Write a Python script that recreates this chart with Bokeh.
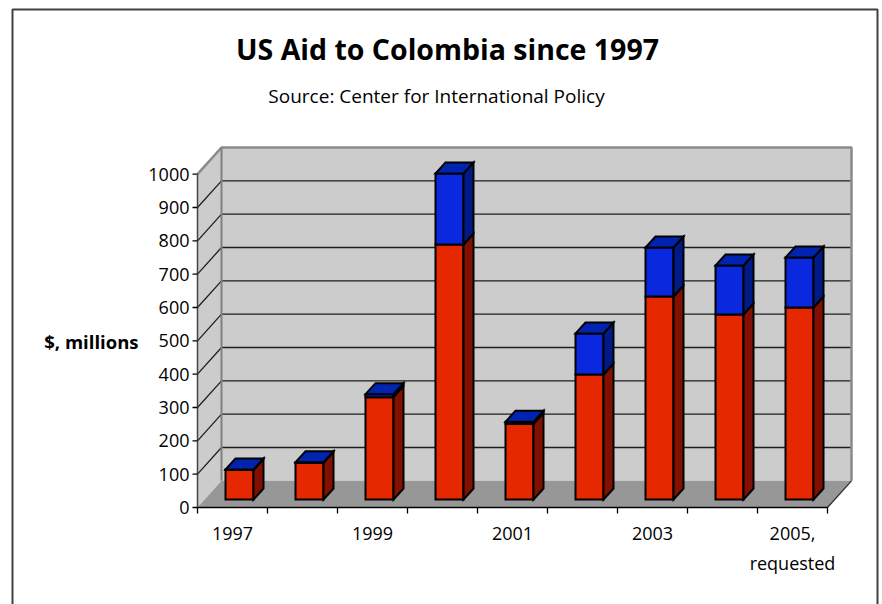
from bokeh.plotting import figure
from bokeh.models import Range1d
from bokeh.core.properties import value
from bokeh.embed import file_html
from bokeh.resources import INLINE

# ---------------- data ----------------
years = ["1997", "1998", "1999", "2000", "2001", "2002", "2003", "2004", "2005, requested"]
military = [88.5, 110, 307, 765, 227, 375, 609, 555, 576]     # red series
economic = [1.5, 1.5, 9, 213, 6, 123, 147, 147, 150]         # blue series
shown_labels = ["1997", "", "1999", "", "2001", "", "2003", "", "2005,\nrequested"]
y_ticks = [0, 100, 200, 300, 400, 500, 600, 700, 800, 900, 1000]

title_text = "US Aid to Colombia since 1997"
subtitle_text = "Source: Center for International Policy"
ylabel_text = "$, millions"

# ---------------- geometry (styling) ----------------
W, H = 882, 604
X0PX, Y0PX = 197, 507           # screen position of front-left floor corner
PX_PER_CAT = 70.0
UNITS_PER_PX = 3.0

def sx(px):
    return (px - X0PX) / PX_PER_CAT

def sy(py):
    return (Y0PX - py) * UNITS_PER_PX

xr = Range1d(sx(0), sx(W))
yr = Range1d(sy(H), sy(0))

DX = 24 / PX_PER_CAT     # wall depth offset (category units)
DY = 80                  # wall depth offset (value units)
BAR_X0 = 0.4             # bar front face left inside category
BAR_W = 0.4
BASE = 24                # bar base lifted into the floor depth
BDX = 10 / PX_PER_CAT    # bar depth
BDY = 33
TICK = 5                 # px

n = len(years)
FONT = value("Open Sans")

p = figure(width=W, height=H, x_range=xr, y_range=yr, output_backend="svg",
           toolbar_location=None, min_border=0, x_axis_location=None, y_axis_location=None,
           title_location=None)
p.outline_line_color = None
p.grid.visible = False
p.background_fill_color = "white"
p.border_fill_color = "white"

# ---------------- walls and floor ----------------
top_v = y_ticks[-1]
p.patch([0, DX, DX, 0], [0, DY, top_v + DY, top_v], fill_color="#cccccc", line_color=None)
p.patch([DX, n + DX, n + DX, DX], [DY, DY, top_v + DY, top_v + DY], fill_color="#cccccc", line_color=None)
p.patch([0, n, n + DX, DX], [0, 0, DY, DY], fill_color="#979797", line_color=None)

grid_v = y_ticks[1:-1]
p.multi_line([[DX, n + DX] for v in grid_v], [[v + DY, v + DY] for v in grid_v],
             line_color="#1e1e1e", line_width=1.3)
p.multi_line([[0, DX] for v in grid_v], [[v, v + DY] for v in grid_v],
             line_color="#1e1e1e", line_width=1.3)
p.line([0, DX, n + DX, n + DX], [top_v, top_v + DY, top_v + DY, DY], line_color="#8a8a8a", line_width=2.5)
p.line([DX, DX], [DY, top_v + DY], line_color="#808080", line_width=2)
p.line([n, n + DX], [0, DY], line_color="#303030", line_width=1.3)

# ---------------- bars ----------------
def boxes(bottoms, tops):
    fx, fy, s_x, s_y, tx, ty = [], [], [], [], [], []
    for i in range(n):
        x0 = i + BAR_X0
        x1 = x0 + BAR_W
        b = BASE + bottoms[i]
        t = BASE + tops[i]
        fx.append([x0, x1, x1, x0]); fy.append([b, b, t, t])
        s_x.append([x1, x1 + BDX, x1 + BDX, x1]); s_y.append([b, b + BDY, t + BDY, t])
        tx.append([x0, x1, x1 + BDX, x0 + BDX]); ty.append([t, t, t + BDY, t + BDY])
    return fx, fy, s_x, s_y, tx, ty

red_b = [0] * n
red_t = military
blue_b = military
blue_t = [m + e for m, e in zip(military, economic)]

fx, fy, s_x, s_y, tx, ty = boxes(red_b, red_t)
p.patches(fx, fy, fill_color="#e62800", line_color="black", line_width=2, line_join="miter")
p.patches(s_x, s_y, fill_color="#821000", line_color="black", line_width=2, line_join="miter")
fx, fy, s_x, s_y, tx, ty = boxes(blue_b, blue_t)
p.patches(fx, fy, fill_color="#0a28de", line_color="black", line_width=2, line_join="miter")
p.patches(s_x, s_y, fill_color="#001a88", line_color="black", line_width=2, line_join="miter")
p.patches(tx, ty, fill_color="#0024b0", line_color="black", line_width=2, line_join="miter")

# ---------------- axes (drawn) ----------------
p.line([0, 0], [y_ticks[0], y_ticks[-1]], line_color="#444444", line_width=1.5)
p.segment(x0=[sx(X0PX - TICK)] * len(y_ticks), y0=y_ticks, x1=[0] * len(y_ticks), y1=y_ticks,
          line_color="black", line_width=1.3)
p.text(x=[sx(X0PX - TICK - 3)] * len(y_ticks), y=y_ticks, text=[str(v) for v in y_ticks],
       text_align="right", text_baseline="middle", text_font=FONT, text_font_size="18px",
       text_color="black")

cat_edges = list(range(n + 1))
p.line([0, n], [0, 0], line_color="black", line_width=1.5)
p.segment(x0=cat_edges, y0=[0] * len(cat_edges), x1=cat_edges, y1=[-TICK * UNITS_PER_PX - 3] * len(cat_edges),
          line_color="black", line_width=1.3)
lx, ly, lt = [], [], []
for i, lab in enumerate(shown_labels):
    if not lab:
        continue
    for k, ln in enumerate(lab.split("\n")):
        lx.append(i + 0.5)
        ly.append(sy(533 + 29 * k))
        lt.append(ln)
p.text(x=lx, y=ly, text=lt, text_align="center", text_baseline="middle", text_font=FONT,
       text_font_size="18px", text_color="black")

# titles
p.text(x=[sx(447)], y=[sy(48)], text=[title_text], text_align="center", text_baseline="middle",
       text_font=FONT, text_font_style="bold", text_font_size="28.5px", text_color="black")
p.text(x=[sx(436)], y=[sy(95)], text=[subtitle_text], text_align="center", text_baseline="middle",
       text_font=FONT, text_font_size="19px", text_color="black")
p.text(x=[sx(138)], y=[sy(341)], text=[ylabel_text], text_align="right", text_baseline="middle",
       text_font=FONT, text_font_style="bold", text_font_size="18.5px", text_color="black")

# outer chart border
p.line([sx(12), sx(12), sx(877), sx(877)], [sy(620), sy(9), sy(9), sy(620)],
       line_color="#404040", line_width=2)

open("out.html", "w").write(file_html(p, INLINE))
